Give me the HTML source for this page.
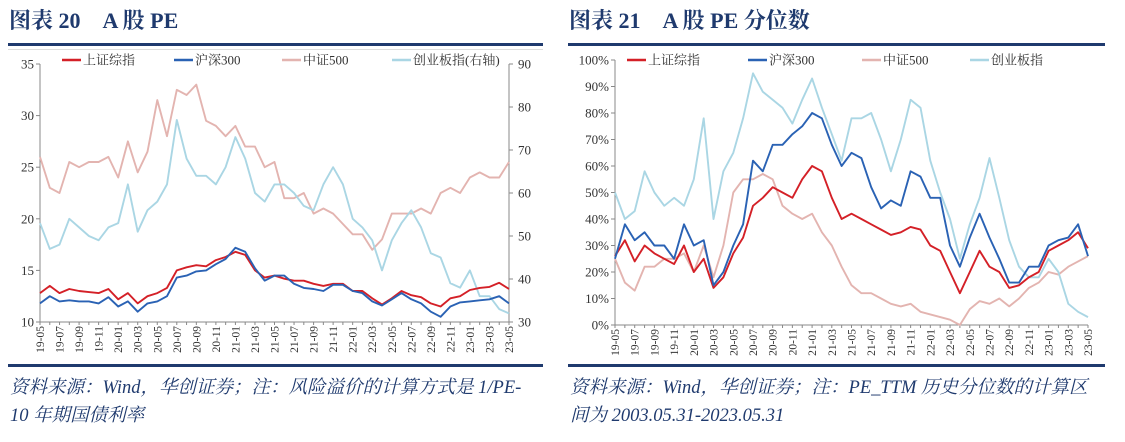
<!DOCTYPE html>
<html><head><meta charset="utf-8">
<style>
html,body{margin:0;padding:0;background:#fff;}
svg{display:block;font-family:"Liberation Serif","Noto Serif CJK SC",serif;}
</style></head>
<body>
<svg id="root" width="1125" height="442" viewBox="0 0 1125 442" xmlns="http://www.w3.org/2000/svg">
  <g>
    <text x="9" y="28" font-size="22" font-weight="bold" fill="#1f3a6e">图表 20　A 股 PE</text>
    <rect x="8" y="43" width="535" height="3" fill="#1f3a6e"/>
    <line x1="8" y1="49.5" x2="543" y2="49.5" stroke="#ddd"/>
    <g id="left-chart"></g>
    <rect x="8" y="364" width="535" height="3" fill="#1f3a6e"/>
    <text x="10" y="393" font-size="18.5" font-style="italic" fill="#1f3a6e">资料来源：Wind，华创证券；注：风险溢价的计算方式是 1/PE-</text>
    <text x="10" y="421" font-size="18.5" font-style="italic" fill="#1f3a6e">10 年期国债利率</text>
  </g>
  <g>
    <text x="569" y="28" font-size="22" font-weight="bold" fill="#1f3a6e">图表 21　A 股 PE 分位数</text>
    <rect x="568" y="43" width="537" height="3" fill="#1f3a6e"/>
    <g id="right-chart"></g>
    <rect x="568" y="364" width="537" height="3" fill="#1f3a6e"/>
    <text x="570" y="393" font-size="18.5" font-style="italic" fill="#1f3a6e">资料来源：Wind，华创证券；注：PE_TTM 历史分位数的计算区</text>
    <text x="570" y="421" font-size="18.5" font-style="italic" fill="#1f3a6e">间为 2003.05.31-2023.05.31</text>
  </g>
</svg>
<script>
const months = ["19-05","19-06","19-07","19-08","19-09","19-10","19-11","19-12","20-01","20-02","20-03","20-04","20-05","20-06","20-07","20-08","20-09","20-10","20-11","20-12","21-01","21-02","21-03","21-04","21-05","21-06","21-07","21-08","21-09","21-10","21-11","21-12","22-01","22-02","22-03","22-04","22-05","22-06","22-07","22-08","22-09","22-10","22-11","22-12","23-01","23-02","23-03","23-04","23-05"];
const seriesNames = ["上证综指","沪深300","中证500","创业板指"];
// Left chart: PE
const peSH = [12.8,13.5,12.8,13.2,13.0,12.9,12.8,13.2,12.2,12.8,11.8,12.5,12.8,13.3,15.0,15.3,15.5,15.4,16.0,16.3,16.8,16.5,15.0,14.3,14.5,14.2,14.0,14.0,13.7,13.5,13.7,13.7,13.0,13.0,12.3,11.7,12.3,13.0,12.6,12.4,11.8,11.5,12.3,12.5,13.1,13.3,13.4,13.8,13.2];
const peHS300 = [11.8,12.5,12.0,12.1,12.0,12.0,11.8,12.4,11.5,12.0,11.0,11.8,12.0,12.5,14.3,14.5,14.9,15.0,15.6,16.1,17.2,16.8,15.2,14.0,14.5,14.5,13.7,13.3,13.2,13.0,13.6,13.6,13.0,12.8,12.0,11.6,12.2,12.8,12.2,11.8,11.0,10.5,11.5,11.9,12.0,12.1,12.2,12.5,11.8];
const peZZ500 = [26,23,22.5,25.5,25,25.5,25.5,26,24,27.5,24.5,26.5,31.5,28,32.5,32,33,29.5,29,28,29,27,27,25,25.5,22,22,22.5,20.5,21,20.5,19.5,18.5,18.5,17,18,20.5,20.5,20.5,21,20.5,22.5,23,22.5,24,24.5,24,24,25.5];
const peCYB = [53,47,48,54,52,50,49,52,53,62,51,56,58,62,77,68,64,64,62,66,73,68,60,58,62,62,60,57,56,62,66,62,54,52,49,42,49,53,56,52,46,45,39,38,42,36,36,33,32];
const leftTicks = [10,15,20,25,30,35];
const rightTicks = [30,40,50,60,70,80,90];
// Right chart: PE percentile (%)
const pctSH = [26,32,24,30,27,25,23,30,20,25,14,18,27,33,45,48,52,50,48,55,60,58,48,40,42,40,38,36,34,35,37,36,30,28,20,12,20,28,22,20,14,15,18,20,28,30,32,35,29];
const pctHS300 = [25,38,32,35,30,30,25,38,30,32,15,20,30,38,62,58,68,68,72,75,80,78,68,60,65,63,52,44,47,45,58,56,48,48,30,22,33,42,33,25,16,16,22,22,30,32,33,38,26];
const pctZZ500 = [25,16,13,22,22,25,25,27,20,30,18,30,50,55,55,57,55,45,42,40,42,35,30,22,15,12,12,10,8,7,8,5,4,3,2,0,6,9,8,10,7,10,14,16,20,19,22,24,26];
const pctCYB = [50,40,43,58,50,45,48,45,55,78,40,58,65,78,95,88,85,82,76,85,93,82,72,62,78,78,80,70,58,70,85,82,62,50,40,25,38,48,63,48,32,22,18,18,25,20,8,5,3];
const pctTicks = [0,10,20,30,40,50,60,70,80,90,100];

const NS = "http://www.w3.org/2000/svg";
const colors = ["#d42027","#2a62b4","#e3b4b0","#aad6e4"];
function mk(tag, attrs, parent){const e=document.createElementNS(NS,tag);for(const k in attrs)e.setAttribute(k,attrs[k]);parent.appendChild(e);return e;}

function drawChart(g, cfg){
  const xScale = i => cfg.x0 + i*(cfg.x1-cfg.x0)/(months.length-1);
  const yL = v => cfg.yBot - (v-cfg.lMin)/(cfg.lMax-cfg.lMin)*(cfg.yBot-cfg.yTop);
  const yR = cfg.rMin!==undefined ? (v => cfg.yBot - (v-cfg.rMin)/(cfg.rMax-cfg.rMin)*(cfg.yBot-cfg.yTop)) : null;
  const ax = mk("line",{x1:cfg.x0,y1:cfg.yTop,x2:cfg.x0,y2:cfg.yBot,stroke:"#888","stroke-width":1},g);
  
  
  const xa = mk("line",{x1:cfg.x0,y1:cfg.yBot,x2:cfg.x1,y2:cfg.yBot,stroke:"#888","stroke-width":1},g);
  
  
  cfg.lTicks.forEach(t=>{
    const y=yL(t);
    mk("line",{x1:cfg.x0-4,y1:y,x2:cfg.x0,y2:y,stroke:"#888"},g);
    const tx=mk("text",{x:cfg.x0-6,y:y+4.5,"font-size":13,"text-anchor":"end",fill:"#333"},g);
    tx.textContent = cfg.fmt(t);
    
    
  });
  if(yR){
    const ra = mk("line",{x1:cfg.x1,y1:cfg.yTop,x2:cfg.x1,y2:cfg.yBot,stroke:"#888"},g);
    
    
    cfg.rTicks.forEach(t=>{
      const y=yR(t);
      mk("line",{x1:cfg.x1,y1:y,x2:cfg.x1+4,y2:y,stroke:"#888"},g);
      const tx=mk("text",{x:cfg.x1+9,y:y+4.5,"font-size":13,fill:"#333"},g);
      tx.textContent = t;
      
      
    });
  }
  months.forEach((m,i)=>{
    const x=xScale(i);
    mk("line",{x1:x,y1:cfg.yBot,x2:x,y2:cfg.yBot+3,stroke:"#888"},g);
    if(i%2===0){
      const tx=mk("text",{x:0,y:0,"font-size":11.5,"text-anchor":"end",fill:"#333",transform:`translate(${x+4},${cfg.yBot+4}) rotate(-90)`},g);
      tx.textContent=m;
      
      
    }
  });
  const order=[2,3,0,1];
  order.forEach(k=>{
    const data=cfg.series[k];
    const ys = (k===3 && yR)? yR : yL;
    const pts=data.map((v,i)=>xScale(i).toFixed(1)+","+ys(v).toFixed(1)).join(" ");
    const pl=mk("polyline",{points:pts,fill:"none",stroke:colors[k],"stroke-width":1.9,"stroke-linejoin":"round"},g);
    
    
  });
  cfg.legendX.forEach((lx,k)=>{
    const lg=mk("g",{},g);
    
    
    mk("line",{x1:lx,y1:cfg.legY,x2:lx+19,y2:cfg.legY,stroke:colors[k],"stroke-width":2.5},lg);
    const tx=mk("text",{x:lx+21,y:cfg.legY+4.5,"font-size":13,fill:"#333"},lg);
    tx.textContent = cfg.legendLabels[k];
  });
}

drawChart(document.getElementById("left-chart"),{
  x0:40,x1:509,yTop:64,yBot:322,lMin:10,lMax:35,rMin:30,rMax:90,
  lTicks:leftTicks,rTicks:rightTicks,fmt:t=>t,
  series:[peSH,peHS300,peZZ500,peCYB],
  legendX:[62,174,282,392],legY:60,
  legendLabels:["上证综指","沪深300","中证500","创业板指(右轴)"]
});
drawChart(document.getElementById("right-chart"),{
  x0:615,x1:1088,yTop:60,yBot:325,lMin:0,lMax:100,
  lTicks:pctTicks,fmt:t=>t+"%",
  series:[pctSH,pctHS300,pctZZ500,pctCYB],
  legendX:[627,748,862,970],legY:60,
  legendLabels:["上证综指","沪深300","中证500","创业板指"]
});
</script>
</body></html>
